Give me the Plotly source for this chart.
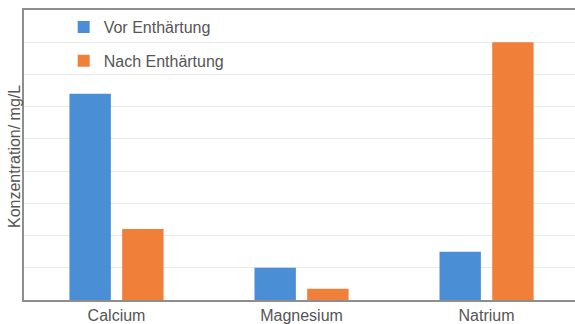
import plotly.graph_objects as go

# Ion concentrations before and after water softening (in gridline units)
categories = ["Calcium", "Magnesium", "Natrium"]
vor_enthaertung = [6.4, 1.0, 1.5]
nach_enthaertung = [2.2, 0.35, 8.0]
series_names = ["Vor Enthärtung", "Nach Enthärtung"]
y_title = "Konzentration/ mg/L"

blue = "#4a8fd6"
orange = "#f07f3a"
text_color = "#555555"
font_family = "Liberation Sans, Arial, sans-serif"

fig = go.Figure()
fig.add_trace(go.Bar(x=categories, y=vor_enthaertung, name=series_names[0],
                     marker=dict(color=blue, line=dict(width=0)),
                     legendgroup="a"))
fig.add_trace(go.Bar(x=categories, y=nach_enthaertung, name=series_names[1],
                     marker=dict(color=orange, line=dict(width=0)),
                     legendgroup="b"))

fig.update_layout(
    width=575, height=324,
    margin=dict(l=24, r=0, t=10, b=21),
    paper_bgcolor="white", plot_bgcolor="white",
    barmode="group", bargap=0.43, bargroupgap=0.215,
    font=dict(family=font_family, size=16, color=text_color),
    showlegend=True,
    legend=dict(x=0.072, y=1.0, xanchor="left", yanchor="top",
                bgcolor="rgba(0,0,0,0)", traceorder="grouped",
                tracegroupgap=10, itemwidth=30,
                font=dict(size=16, color=text_color)),
    xaxis=dict(range=[-0.5, 2.478], showgrid=False, showline=True,
               linecolor="#8e8e8e", linewidth=1.5, mirror=True,
               ticks="", tickfont=dict(size=16, color=text_color),
               fixedrange=True),
    yaxis=dict(range=[0, 9], dtick=1, showgrid=True, gridcolor="#e9e9e9",
               gridwidth=1, showline=True, linecolor="#8e8e8e", linewidth=1.5,
               showticklabels=False, ticks="", zeroline=False,
               fixedrange=True),
    annotations=[dict(text=y_title, xref="paper", yref="paper", x=0, y=0.5,
                      xshift=-10, yshift=-2, textangle=-90, showarrow=False,
                      xanchor="center", yanchor="middle",
                      font=dict(size=16, color=text_color))],
)

fig.write_html("out.html", config={"displayModeBar": False})
